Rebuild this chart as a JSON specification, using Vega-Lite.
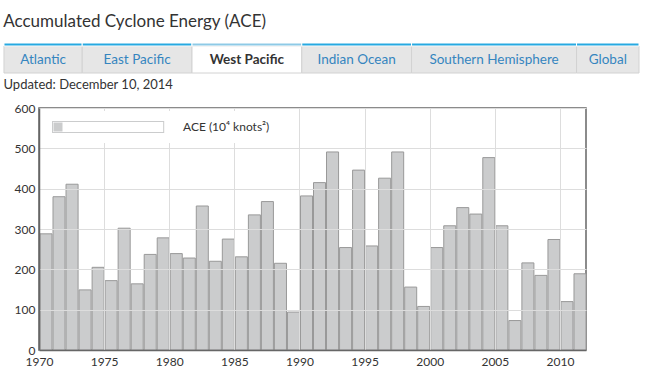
{
  "$schema": "https://vega.github.io/schema/vega-lite/v6.json",
  "background": "white",
  "padding": {"left": 3, "top": 12, "right": 5, "bottom": 5},
  "title": {"text": "Accumulated Cyclone Energy (ACE)", "anchor": "start", "font": "Lato", "fontSize": 17, "fontWeight": "normal", "color": "#333333", "offset": 12},
  "config": {"font": "Lato", "view": {"stroke": null}},
  "columns": 1,
  "align": "none",
  "spacing": 9,
  "resolve": {"legend": {"color": "independent"}, "scale": {"color": "independent"}},
  "concat": [
    {
      "width": 600,
      "height": 30,
      "title": {"text": "Updated: December 10, 2014", "orient": "bottom", "anchor": "start", "frame": "bounds", "font": "Lato", "fontSize": 13, "fontWeight": "normal", "color": "#333333", "offset": 5},
      "data": {"values": [
        {"tab": "Atlantic", "i": 1, "active": false},
        {"tab": "East Pacific", "i": 2, "active": false},
        {"tab": "West Pacific", "i": 3, "active": true},
        {"tab": "Indian Ocean", "i": 4, "active": false},
        {"tab": "Southern Hemisphere", "i": 5, "active": false},
        {"tab": "Global", "i": 6, "active": false}
      ]},
      "transform": [
        {"calculate": "length(datum.tab) * 8.08 + 15.5", "as": "w"},
        {"stack": "w", "groupby": [], "sort": [{"field": "i", "order": "ascending"}], "as": ["x0", "x1"]},
        {"calculate": "(datum.x0 + datum.x1) / 2", "as": "mid"}
      ],
      "layer": [
        {
          "mark": {"type": "bar", "stroke": "#d2d2d2", "strokeWidth": 1, "clip": false},
          "encoding": {
            "x": {"field": "x0", "type": "quantitative", "axis": null, "scale": {"domain": [35.88, 650.52], "nice": false, "zero": false}},
            "x2": {"field": "x1"},
            "y": {"datum": 0, "type": "quantitative", "axis": null, "scale": {"domain": [0, 30]}},
            "y2": {"datum": 27},
            "fill": {"condition": {"test": "datum.active", "value": "#ffffff"}, "value": "#e6e6e6"}
          }
        },
        {
          "mark": {"type": "bar", "stroke": "#ffffff", "strokeWidth": 1, "clip": false},
          "encoding": {
            "x": {"field": "x0", "type": "quantitative"},
            "x2": {"field": "x1"},
            "y": {"datum": 27, "type": "quantitative"},
            "y2": {"datum": 30},
            "fill": {"condition": {"test": "datum.active", "value": "#8ecae6"}, "value": "#27a9e1"}
          }
        },
        {
          "transform": [{"filter": "!datum.active"}],
          "mark": {"type": "text", "font": "Lato", "fontSize": 13.5, "baseline": "middle", "align": "center", "color": "#3585bf", "clip": false},
          "encoding": {
            "x": {"field": "mid", "type": "quantitative"},
            "y": {"datum": 13.5, "type": "quantitative"},
            "text": {"field": "tab"}
          }
        },
        {
          "transform": [{"filter": "datum.active"}],
          "mark": {"type": "text", "font": "Lato", "fontSize": 13.5, "fontWeight": "bold", "baseline": "middle", "align": "center", "color": "#333333", "clip": false},
          "encoding": {
            "x": {"field": "mid", "type": "quantitative"},
            "y": {"datum": 13.5, "type": "quantitative"},
            "text": {"field": "tab"}
          }
        }
      ]
    },
    {
      "width": 547,
      "height": 242,
      "view": {"stroke": "#666666", "strokeWidth": 1.5},
      "data": {"values": [
        {"year": "1970", "ace": 288}, {"year": "1971", "ace": 380}, {"year": "1972", "ace": 411},
        {"year": "1973", "ace": 149}, {"year": "1974", "ace": 205}, {"year": "1975", "ace": 172},
        {"year": "1976", "ace": 302}, {"year": "1977", "ace": 164}, {"year": "1978", "ace": 237},
        {"year": "1979", "ace": 278}, {"year": "1980", "ace": 239}, {"year": "1981", "ace": 228},
        {"year": "1982", "ace": 357}, {"year": "1983", "ace": 220}, {"year": "1984", "ace": 275},
        {"year": "1985", "ace": 231}, {"year": "1986", "ace": 335}, {"year": "1987", "ace": 368},
        {"year": "1988", "ace": 215}, {"year": "1989", "ace": 94}, {"year": "1990", "ace": 382},
        {"year": "1991", "ace": 415}, {"year": "1992", "ace": 491}, {"year": "1993", "ace": 254},
        {"year": "1994", "ace": 446}, {"year": "1995", "ace": 258}, {"year": "1996", "ace": 426},
        {"year": "1997", "ace": 491}, {"year": "1998", "ace": 156}, {"year": "1999", "ace": 108},
        {"year": "2000", "ace": 254}, {"year": "2001", "ace": 308}, {"year": "2002", "ace": 353},
        {"year": "2003", "ace": 337}, {"year": "2004", "ace": 477}, {"year": "2005", "ace": 308},
        {"year": "2006", "ace": 73}, {"year": "2007", "ace": 216}, {"year": "2008", "ace": 185},
        {"year": "2009", "ace": 274}, {"year": "2010", "ace": 120}, {"year": "2011", "ace": 189}
      ]},
      "mark": {"type": "bar", "stroke": "#999999", "strokeWidth": 1},
      "encoding": {
        "x": {
          "field": "year", "timeUnit": "utcyear", "type": "temporal", "title": null,
          "scale": {"type": "utc", "nice": false},
          "axis": {"format": "%Y", "tickCount": {"interval": "year", "step": 5}, "labelFlush": false, "ticks": false, "grid": true, "gridColor": "#dddddd", "gridWidth": 1, "domainColor": "#666666", "domainWidth": 1.5, "labelFont": "Lato", "labelFontSize": 12, "labelColor": "#333333", "labelPadding": 6, "zindex": 1}
        },
        "y": {
          "field": "ace", "type": "quantitative", "title": null,
          "scale": {"domain": [0, 600], "nice": false},
          "axis": {"values": [0, 100, 200, 300, 400, 500, 600], "ticks": false, "grid": true, "gridColor": "#dddddd", "gridWidth": 1, "domainColor": "#666666", "domainWidth": 1.5, "labelFont": "Lato", "labelFontSize": 12, "labelColor": "#333333", "labelPadding": 4, "minExtent": 35, "zindex": 1}
        },
        "color": {
          "datum": "ACE (10⁴ knots²)", "type": "nominal",
          "scale": {"range": ["#cbcccd"]},
          "legend": {
            "orient": "top-left", "offset": 3, "padding": 10, "title": null, "zindex": 2, "fillColor": "#ffffff",
            "symbolType": "M-1,-1H17.7V1H-1Z M-0.83,-0.83V0.83H17.53V-0.83Z M-0.75,-0.75H0.75V0.75H-0.75Z",
            "symbolSize": 144, "symbolStrokeWidth": 0, "labelOffset": 119,
            "labelFont": "Lato", "labelFontSize": 12, "labelColor": "#333333",
            "encode": {"symbols": {"update": {"fill": {"value": "#a9a9a9"}, "stroke": {"value": "transparent"}, "strokeWidth": {"value": 0}, "opacity": {"value": 1}}}}
          }
        }
      }
    }
  ]
}
